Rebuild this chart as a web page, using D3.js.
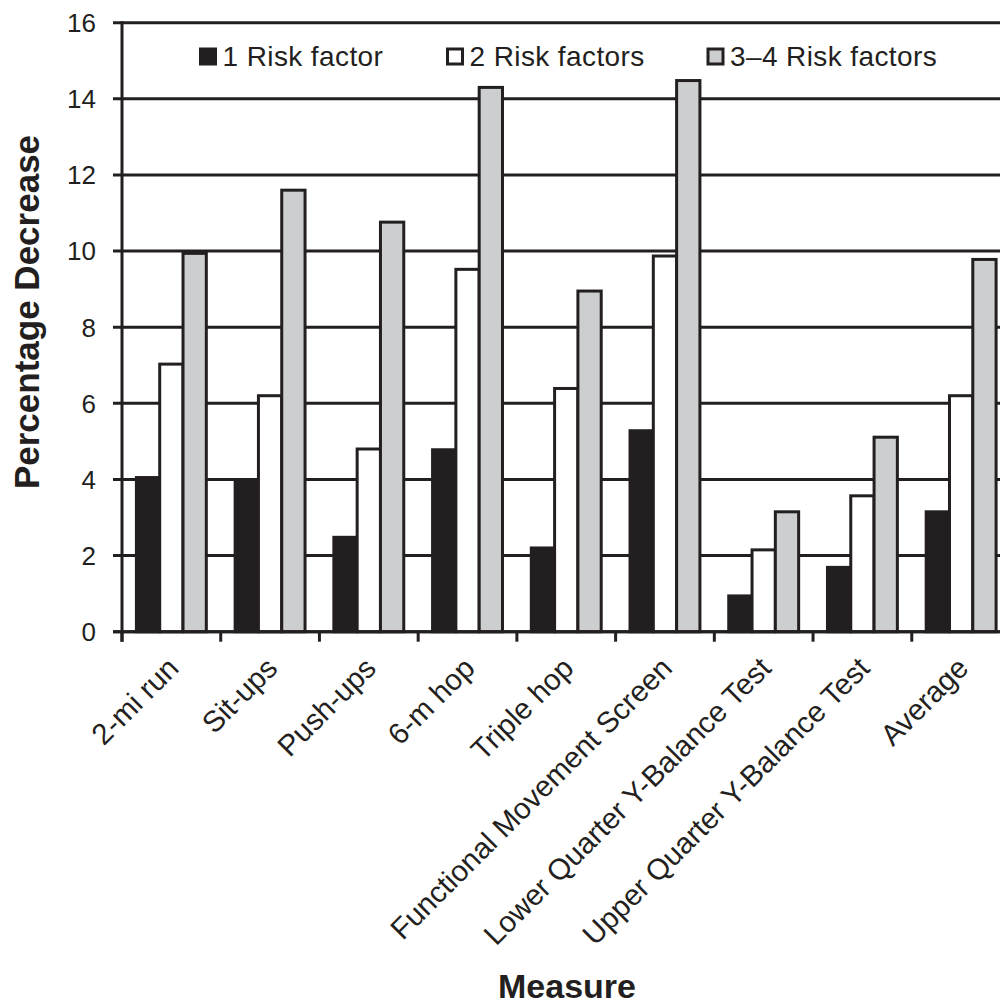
<!DOCTYPE html>
<html>
<head>
<meta charset="utf-8">
<script src="https://cdn.jsdelivr.net/npm/d3@7"></script>
<style>
  body { margin: 0; background: #fff; }
  svg { display: block; font-family: "Liberation Sans", Arial, sans-serif; }
</style>
</head>
<body>
<svg id="container"></svg>
<script>
// measures on the x axis
const categories = [
	"2-mi run", "Sit-ups", "Push-ups", "6-m hop", "Triple hop",
	"Functional Movement Screen", "Lower Quarter Y-Balance Test",
	"Upper Quarter Y-Balance Test", "Average"
]

const seriesNames = ["1 Risk factor", "2 Risk factors", "3\u20134 Risk factors"]

// percentage decrease
const oneRisk   = [4.05, 3.98, 2.48, 4.78, 2.2, 5.28, 0.94, 1.69, 3.15]
const twoRisk   = [7.03, 6.2, 4.8, 9.52, 6.39, 9.87, 2.15, 3.57, 6.2]
const threeRisk = [9.94, 11.6, 10.76, 14.3, 8.95, 14.48, 3.15, 5.11, 9.78]

const yTicks = [0, 2, 4, 6, 8, 10, 12, 14, 16]

const ink = "#231f20"
const fills = [ink, "#ffffff", "#cdcecf"]

const setup = () => {
	const width = 1000
	const height = 1006
	const svg = d3.select("#container")
	svg.attr("width", width).attr("height", height)

	const left = 122
	const right = 1010.5 // plot runs past the edge of the picture
	const bottom = 631.7
	const top = 22.7

	const x0 = d3.scaleBand().domain(categories).range([left, right]).padding(0)
	const x1 = d3.scaleBand().domain(seriesNames).range([0, x0.bandwidth()])
				.paddingInner(0).paddingOuter(0.618)
	const y = d3.scaleLinear().domain([0, 16]).range([bottom, top])

	const series = [oneRisk, twoRisk, threeRisk]

	// gridlines + y ticks
	svg.append("g")
	   .selectAll("line")
	   .data(yTicks)
	   .join("line")
	   .attr("x1", left - 9)
	   .attr("x2", width)
	   .attr("y1", d => y(d))
	   .attr("y2", d => y(d))
	   .attr("stroke", ink)
	   .attr("stroke-width", 3)

	svg.append("g")
	   .selectAll("text")
	   .data(yTicks)
	   .join("text")
	   .attr("x", 96)
	   .attr("y", d => y(d))
	   .attr("dy", "0.36em")
	   .attr("text-anchor", "end")
	   .attr("font-size", 26)
	   .attr("fill", ink)
	   .text(d => d)

	// bars
	const groups = svg.append("g")
	   .selectAll("g")
	   .data(categories)
	   .join("g")
	   .attr("transform", d => `translate(${x0(d)},0)`)

	groups.selectAll("rect")
	   .data((d, i) => seriesNames.map((s, j) => ({ s, j, v: series[j][i] })))
	   .join("rect")
	   .attr("x", d => x1(d.s))
	   .attr("width", x1.bandwidth())
	   .attr("y", d => y(d.v))
	   .attr("height", d => bottom - y(d.v))
	   .attr("fill", d => fills[d.j])
	   .attr("stroke", ink)
	   .attr("stroke-width", 3)

	// axes lines
	svg.append("line")
	   .attr("x1", left).attr("x2", left)
	   .attr("y1", top - 1.5).attr("y2", bottom + 10)
	   .attr("stroke", ink).attr("stroke-width", 3)
	svg.append("line")
	   .attr("x1", left - 9).attr("x2", width)
	   .attr("y1", bottom).attr("y2", bottom)
	   .attr("stroke", ink).attr("stroke-width", 3)

	// x ticks at category boundaries
	svg.append("g")
	   .selectAll("line")
	   .data(categories)
	   .join("line")
	   .attr("x1", d => x0(d))
	   .attr("x2", d => x0(d))
	   .attr("y1", bottom)
	   .attr("y2", bottom + 10)
	   .attr("stroke", ink)
	   .attr("stroke-width", 3)

	// category labels
	svg.append("g")
	   .selectAll("text")
	   .data(categories)
	   .join("text")
	   .attr("transform", d => `translate(${x0(d) + x0.bandwidth() / 2 + 9},670) rotate(-45)`)
	   .attr("text-anchor", "end")
	   .attr("font-size", 29.5)
	   .attr("fill", ink)
	   .text(d => d)

	// axis titles
	svg.append("text")
	   .attr("transform", "translate(39,312) rotate(-90)")
	   .attr("text-anchor", "middle")
	   .attr("font-size", 35)
	   .attr("font-weight", "bold")
	   .attr("fill", ink)
	   .text("Percentage Decrease")

	svg.append("text")
	   .attr("x", 567)
	   .attr("y", 998)
	   .attr("text-anchor", "middle")
	   .attr("font-size", 34)
	   .attr("font-weight", "bold")
	   .attr("fill", ink)
	   .text("Measure")

	// legend
	const legendX = [200.5, 447.5, 708]
	const legend = svg.append("g")
	   .selectAll("g")
	   .data(seriesNames)
	   .join("g")
	   .attr("transform", (d, i) => `translate(${legendX[i]},49)`)
	legend.append("rect")
	   .attr("width", 15)
	   .attr("height", 15)
	   .attr("fill", (d, i) => fills[i])
	   .attr("stroke", ink)
	   .attr("stroke-width", 3)
	legend.append("text")
	   .attr("x", 22)
	   .attr("y", 17)
	   .attr("font-size", 28)
	   .attr("letter-spacing", 0.4)
	   .attr("fill", ink)
	   .text(d => d)
}

document.addEventListener("DOMContentLoaded", setup)
</script>
</body>
</html>
